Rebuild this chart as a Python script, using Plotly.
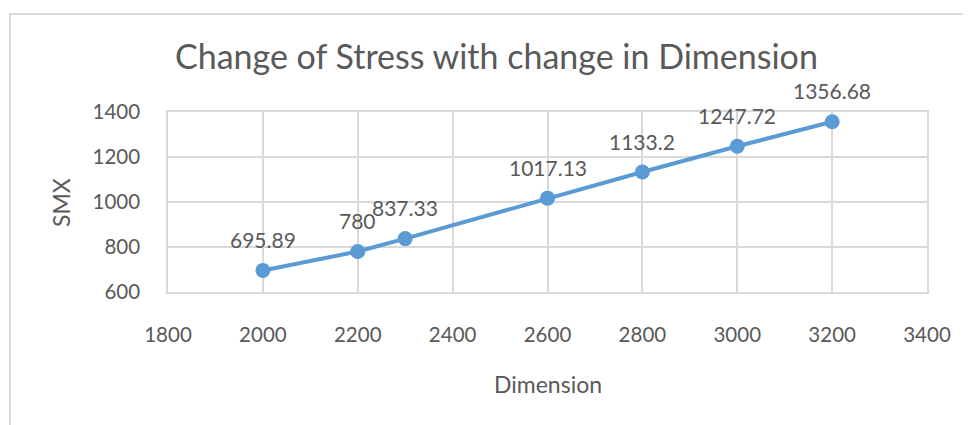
import plotly.graph_objects as go

dimension = [2000, 2200, 2300, 2600, 2800, 3000, 3200]
smx = [695.89, 780, 837.33, 1017.13, 1133.2, 1247.72, 1356.68]
smx_labels = ["695.89", "780", "837.33", "1017.13", "1133.2", "1247.72", "1356.68"]
x_ticks = [1800, 2000, 2200, 2400, 2600, 2800, 3000, 3200, 3400]
y_ticks = [600, 800, 1000, 1200, 1400]

FONT = "Lato"
TXT = "#595959"
GRID = "#d9d9d9"
BLUE = "#5B9BD5"

OFF = 8  # page body margin
W, H = 971 - OFF, 425 - OFF
L, R, T, B = 168 - OFF, 927 - OFF, 112 - OFF, 292 - OFF

def px(xp):
    return (xp - OFF - L) / (R - L)

def py(yp):
    return (B - (yp - OFF)) / (B - T)

fig = go.Figure()
fig.add_trace(go.Scatter(
    x=dimension, y=smx, mode="lines",
    line=dict(color=BLUE, width=2, dash="dot"),
    hoverinfo="skip", showlegend=False,
))
fig.add_trace(go.Scatter(
    x=dimension, y=smx, mode="lines+markers",
    line=dict(color=BLUE, width=4),
    marker=dict(color=BLUE, size=15),
    showlegend=False,
))

annotations = []
for xv, yv, lab in zip(dimension, smx, smx_labels):
    annotations.append(dict(
        x=xv, y=yv, xref="x", yref="y", text=lab, showarrow=False,
        yshift=31, font=dict(family=FONT, size=21, color=TXT),
    ))

annotations.append(dict(
    x=px(496), y=py(55), xref="paper", yref="paper",
    text="Change of Stress with change in Dimension", showarrow=False,
    font=dict(family=FONT, size=34, color=TXT), xanchor="center", yanchor="middle",
))
annotations.append(dict(
    x=px(548), y=py(384), xref="paper", yref="paper", text="Dimension",
    showarrow=False, font=dict(family=FONT, size=23, color=TXT),
    xanchor="center", yanchor="middle",
))
annotations.append(dict(
    x=px(61), y=py(203), xref="paper", yref="paper", text="SMX",
    showarrow=False, textangle=-90, font=dict(family=FONT, size=23, color=TXT),
    xanchor="center", yanchor="middle",
))

shapes = [dict(
    type="path", xref="paper", yref="paper",
    path=f"M {px(10)} {py(440)} L {px(10)} {py(14)} L {px(990)} {py(14)}",
    line=dict(color=GRID, width=2),
)]

fig.update_layout(
    width=W, height=H,
    margin=dict(l=L, r=W - R, t=T, b=H - B),
    paper_bgcolor="white", plot_bgcolor="white",
    annotations=annotations, shapes=shapes,
    font=dict(family=FONT, color=TXT),
)
fig.update_xaxes(
    range=[1800, 3400], tickvals=x_ticks, ticktext=[str(v) for v in x_ticks],
    showgrid=True, gridcolor=GRID, gridwidth=1.5,
    showline=True, linecolor=GRID, linewidth=1.5, mirror=True,
    zeroline=False, ticks="", ticklabelstandoff=24,
    tickfont=dict(family=FONT, size=20.5, color=TXT),
)
fig.update_yaxes(
    range=[600, 1400], tickvals=y_ticks, ticktext=[str(v) for v in y_ticks],
    showgrid=True, gridcolor=GRID, gridwidth=1.5,
    showline=True, linecolor=GRID, linewidth=1.5, mirror=True,
    zeroline=False, ticks="", ticklabelstandoff=22,
    tickfont=dict(family=FONT, size=20.5, color=TXT),
)

fig.write_html("out.html")
